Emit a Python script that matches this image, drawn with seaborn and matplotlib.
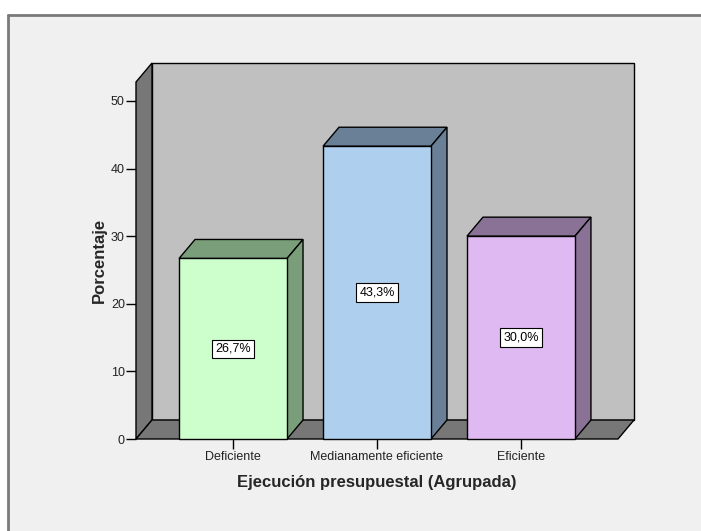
import numpy as np
import matplotlib
matplotlib.use("Agg")
import matplotlib.pyplot as plt
from matplotlib.patches import Polygon, Rectangle
from matplotlib.lines import Line2D
from matplotlib.transforms import IdentityTransform
import seaborn as sns

categories = ["Deficiente", "Medianamente eficiente", "Eficiente"]
values = [26.7, 43.3, 30.0]
value_labels = ["26,7%", "43,3%", "30,0%"]
yticks = [0, 10, 20, 30, 40, 50]

front_colors = ["#ccffcc", "#aed0ee", "#dfb9f2"]
side_colors = ["#7a9e7a", "#6a8097", "#8a7296"]

sns.set_style("white")
plt.rcParams["font.family"] = ["Liberation Sans", "DejaVu Sans"]

W, H = 701, 531
fig = plt.figure(figsize=(W / 100, H / 100), dpi=100, facecolor="white")

# framed panel background
fig.add_artist(Rectangle((8 / W, 0), 1, 1 - 15 / H, transform=fig.transFigure,
                         facecolor="#f0f0f0", edgecolor="none", zorder=-10))
fig.add_artist(Line2D([8 / W, 1], [1 - 15 / H, 1 - 15 / H], transform=fig.transFigure,
                      color="#7a7a7a", lw=2))
fig.add_artist(Line2D([8 / W, 8 / W], [0, 1 - 15 / H], transform=fig.transFigure,
                      color="#7a7a7a", lw=2))

# front plane of the 3D box, in pixels
left, right, bottom, top = 136, 618, 439, 82
ax = fig.add_axes([left / W, (H - bottom) / H, (right - left) / W, (bottom - top) / H])
ax.set_facecolor("none")
ymax = 52.8
x0, x1 = -0.674, 2.674

sns.barplot(x=categories, y=values, hue=categories, palette=front_colors,
            saturation=1, width=0.75, edgecolor="black", linewidth=1, legend=False,
            ax=ax, zorder=5)
for bar in ax.patches:
    bar.set_clip_on(False)
ax.set_xlim(x0, x1)
ax.set_ylim(0, ymax)

fig.canvas.draw()
DX, DY = 16, 19  # depth offset in pixels


def disp(x, y, back=False):
    px, py = ax.transData.transform((x, y))
    if back:
        px, py = px + DX, py + DY
    return (px, py)


def poly(points, fc, z):
    p = Polygon(points, closed=True, facecolor=fc, edgecolor="black", lw=1,
                zorder=z, clip_on=False)
    ax.add_patch(p)
    p.set_transform(IdentityTransform())


# back wall, left wall, floor
poly([disp(x0, 0, True), disp(x1, 0, True), disp(x1, ymax, True), disp(x0, ymax, True)],
     "#c0c0c0", 0.5)
poly([disp(x0, 0), disp(x0, 0, True), disp(x0, ymax, True), disp(x0, ymax)],
     "#777777", 1)
poly([disp(x0, 0), disp(x1, 0), disp(x1, 0, True), disp(x0, 0, True)],
     "#777777", 1)

# bar tops and right sides; front faces come from the barplot itself
for bar, sc in zip(ax.patches[:len(values)], side_colors):
    bx0 = bar.get_x()
    bx1 = bx0 + bar.get_width()
    h = bar.get_height()
    poly([disp(bx0, h), disp(bx1, h), disp(bx1, h, True), disp(bx0, h, True)], sc, 2)
    poly([disp(bx1, 0), disp(bx1, 0, True), disp(bx1, h, True), disp(bx1, h)], sc, 2)

for i, (v, lab) in enumerate(zip(values, value_labels)):
    ax.text(i, v / 2, lab, ha="center", va="center", fontsize=9, color="black",
            zorder=10,
            bbox=dict(boxstyle="square,pad=0.25", fc="white", ec="black", lw=0.8))

for s in ax.spines.values():
    s.set_visible(False)
ax.set_yticks(yticks)
ax.set_yticklabels([str(v) for v in yticks])
ax.tick_params(axis="y", left=True, length=7, width=1, color="black",
               labelsize=9, labelcolor="#222222", pad=1)
ax.tick_params(axis="x", bottom=True, length=7, width=1, color="black",
               labelsize=9, labelcolor="#222222", pad=2)
ax.set_ylabel("Porcentaje", fontsize=12, fontweight="bold", labelpad=3)
ax.set_xlabel("Ejecución presupuestal (Agrupada)", fontsize=12, fontweight="bold",
              labelpad=8)

fig.savefig("out.png", dpi=100, facecolor=fig.get_facecolor())
